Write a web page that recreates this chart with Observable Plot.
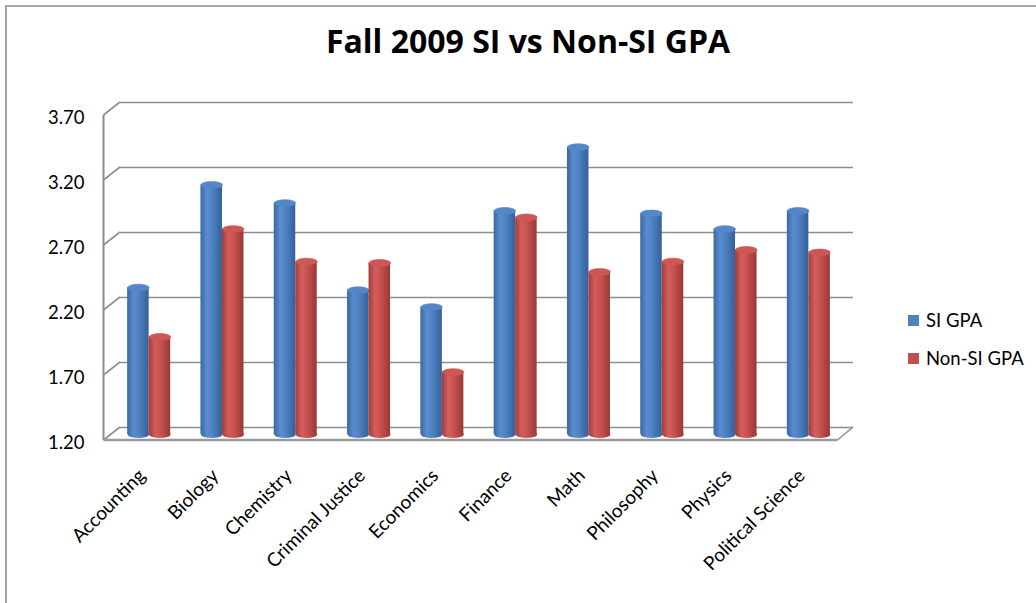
<!DOCTYPE html>
<html><head><meta charset="utf-8">
<script src="https://cdn.jsdelivr.net/npm/d3@7"></script>
<script src="https://cdn.jsdelivr.net/npm/@observablehq/plot@0.6"></script>
<style>
html,body{margin:0;padding:0;background:#fff;width:1036px;height:603px;overflow:hidden;font-family:Lato,"Open Sans",sans-serif;}
#wrap{position:relative;width:1036px;height:603px;}
#border{position:absolute;left:5px;top:5px;width:1100px;height:700px;border-left:2px solid #a6a6a6;border-top:2px solid #a6a6a6;box-sizing:border-box;}
#title{position:absolute;left:0;width:1056px;top:21px;text-align:center;font-family:"Open Sans",Lato,sans-serif;font-weight:700;font-size:32px;color:#000;line-height:40px;}
#chart{position:absolute;left:0;top:0;}
.leg{position:absolute;left:908px;font-size:18.5px;color:#000;display:flex;align-items:center;line-height:22px;}
.leg span.sw{display:inline-block;width:11px;height:11px;margin-right:7px;}
</style>
</head><body>
<div id="wrap">
  <div id="border"></div>
  <div id="chart"></div>
  <div id="title">Fall 2009 SI vs Non-SI GPA</div>
  <div id="legend"></div>
</div>
<script>
const categories = ["Accounting","Biology","Chemistry","Criminal Justice","Economics","Finance","Math","Philosophy","Physics","Political Science"];
const siGPA    = [2.33, 3.12, 2.98, 2.31, 2.18, 2.92, 3.41, 2.90, 2.78, 2.92];
const nonSiGPA = [1.95, 2.78, 2.53, 2.52, 1.68, 2.87, 2.45, 2.53, 2.62, 2.60];
const seriesNames = ["SI GPA", "Non-SI GPA"];
const yTicks = [1.20, 1.70, 2.20, 2.70, 3.20, 3.70];

const W = 1036, H = 603;
const mL = 112, mR = 191, mT = 109, mB = 169;
const bw = (W - mL - mR) / categories.length;
const barW = 21.5;
const back = {dx: 8, dy: -7};
const front = {dx: -8.5, dy: 6};

const si = categories.map((c, i) => ({cat: c, val: siGPA[i], series: seriesNames[0]}));
const non = categories.map((c, i) => ({cat: c, val: nonSiGPA[i], series: seriesNames[1]}));

const ellipse = (rx, ry) => ({
  draw(ctx) {
    const k = 0.5523;
    ctx.moveTo(-rx, 0);
    ctx.bezierCurveTo(-rx, -ry * k, -rx * k, -ry, 0, -ry);
    ctx.bezierCurveTo(rx * k, -ry, rx, -ry * k, rx, 0);
    ctx.bezierCurveTo(rx, ry * k, rx * k, ry, 0, ry);
    ctx.bezierCurveTo(-rx * k, ry, -rx, ry * k, -rx, 0);
    ctx.closePath();
  }
});
const cap = ellipse(barW / 2, 3.4);

function defs() {
  const d = d3.create("svg:defs");
  const mk = (id, stops) => {
    const g = d.append("linearGradient").attr("id", id).attr("x1", 0).attr("x2", 1).attr("y1", 0).attr("y2", 0);
    for (const [o, c] of stops) g.append("stop").attr("offset", o).attr("stop-color", c);
  };
  mk("gSI", [[0, "#3b67a0"], [0.3, "#5a8dd0"], [0.55, "#4f82c2"], [1, "#34609a"]]);
  mk("gNON", [[0, "#9e3d3b"], [0.3, "#d45e5b"], [0.55, "#c8524f"], [1, "#973936"]]);
  return d.node();
}

function frame3d(index, scales, values, dims) {
  const y = scales.y;
  const L = dims.marginLeft, R = dims.width - dims.marginRight;
  const g = d3.create("svg:g").attr("fill", "none").attr("stroke", "#8e8e8e");
  for (const t of yTicks) {
    g.append("line")
      .attr("x1", L + front.dx).attr("y1", y(t) + front.dy)
      .attr("x2", L + back.dx).attr("y2", y(t) + back.dy)
      .attr("stroke-width", 1.6);
  }
  g.append("line")
    .attr("x1", L + front.dx).attr("x2", L + front.dx)
    .attr("y1", y(yTicks[yTicks.length - 1]) + front.dy)
    .attr("y2", y(yTicks[0]) + front.dy)
    .attr("stroke-width", 2);
  g.append("line")
    .attr("x1", L + front.dx).attr("x2", R + front.dx + 1)
    .attr("y1", y(yTicks[0]) + front.dy).attr("y2", y(yTicks[0]) + front.dy)
    .attr("stroke-width", 2.5).attr("stroke", "#9a9a9a");
  g.append("line")
    .attr("x1", R + front.dx + 1).attr("y1", y(yTicks[0]) + front.dy)
    .attr("x2", R + back.dx).attr("y2", y(yTicks[0]) + back.dy)
    .attr("stroke-width", 1.6);
  return g.node();
}

function barMarks(data, grad, capFill, side) {
  const inL = side < 0 ? bw / 2 - barW : bw / 2;
  const inR = side < 0 ? bw / 2 : bw / 2 - barW;
  const off = side * barW / 2;
  return [
    Plot.dot(data, {x: "cat", y: () => yTicks[0], dx: off, symbol: cap, fill: `url(#${grad})`}),
    Plot.barY(data, {x: "cat", y1: () => yTicks[0], y2: "val", insetLeft: inL, insetRight: inR, fill: `url(#${grad})`}),
    Plot.dot(data, {x: "cat", y: "val", dx: off, symbol: cap, fill: capFill, stroke: capFill, strokeWidth: 0.6})
  ];
}

const chart = Plot.plot({
  width: W, height: H,
  marginLeft: mL, marginRight: mR, marginTop: mT, marginBottom: mB,
  style: {fontFamily: "Lato, 'Open Sans', sans-serif", fontSize: "18px", background: "transparent", color: "#000"},
  x: {type: "band", domain: categories, padding: 0, round: false, axis: null},
  y: {domain: [yTicks[0], yTicks[yTicks.length - 1]], axis: null},
  marks: [
    defs,
    Plot.ruleY(yTicks, {dx: back.dx, dy: back.dy, stroke: "#8e8e8e", strokeWidth: 1.6, strokeOpacity: 1}),
    frame3d,
    ...barMarks(si, "gSI", "#5387c8", -1),
    ...barMarks(non, "gNON", "#cc5754", 1),
    Plot.text(yTicks, {y: d => d, text: d => d.toFixed(2), frameAnchor: "left", textAnchor: "end", dx: -28, dy: front.dy + 3, fontSize: 18.5, fill: "#000"}),
    Plot.text(categories, {x: d => d, text: d => d, frameAnchor: "bottom", rotate: -45, textAnchor: "end", lineAnchor: "middle", dx: -7, dy: 38, fontSize: 19, fill: "#000"})
  ]
});
document.getElementById("chart").appendChild(chart);

const legend = document.getElementById("legend");
const legColors = ["#4f81bd", "#c0504d"];
const legTops = [309, 347];
seriesNames.forEach((s, i) => {
  const d = document.createElement("div");
  d.className = "leg";
  d.style.top = legTops[i] + "px";
  d.innerHTML = `<span class="sw" style="background:${legColors[i]}"></span>${s}`;
  legend.appendChild(d);
});
</script>
</body></html>
